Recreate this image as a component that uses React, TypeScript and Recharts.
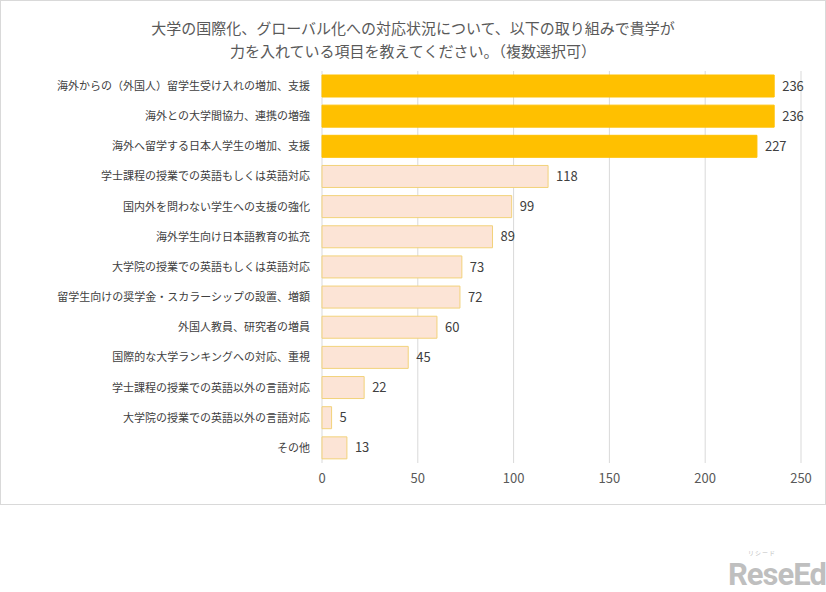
import React from 'react';
import { BarChart, Bar, XAxis, YAxis, CartesianGrid, Cell, LabelList } from 'recharts';

const TITLE_LINE_1 = '大学の国際化、グローバル化への対応状況について、以下の取り組みで貴学が';
const TITLE_LINE_2 = '力を入れている項目を教えてください。（複数選択可）';

const categories = [
  '海外からの（外国人）留学生受け入れの増加、支援',
  '海外との大学間協力、連携の増強',
  '海外へ留学する日本人学生の増加、支援',
  '学士課程の授業での英語もしくは英語対応',
  '国内外を問わない学生への支援の強化',
  '海外学生向け日本語教育の拡充',
  '大学院の授業での英語もしくは英語対応',
  '留学生向けの奨学金・スカラーシップの設置、増額',
  '外国人教員、研究者の増員',
  '国際的な大学ランキングへの対応、重視',
  '学士課程の授業での英語以外の言語対応',
  '大学院の授業での英語以外の言語対応',
  'その他',
];

const counts = [236, 236, 227, 118, 99, 89, 73, 72, 60, 45, 22, 5, 13];

const xTicks = [0, 50, 100, 150, 200, 250];

// top 3 are highlighted
const HIGHLIGHT = 3;

const data = categories.map((name, i) => ({ name, value: counts[i] }));

const FONT = '"Noto Sans CJK JP", "Noto Sans", sans-serif';

const App: React.FC = () => {
  return (
    <div style={{ position: 'absolute', left: 0, top: 0, width: 826, height: 592, background: '#fff', fontFamily: FONT }}>
      <div
        style={{
          position: 'absolute',
          left: 0,
          top: 0,
          width: 824,
          height: 503,
          border: '1px solid #D9D9D9',
        }}
      />
      <div style={{ position: 'absolute', left: 0, top: 16, width: 826, textAlign: 'center', color: '#595959', fontSize: 15, lineHeight: '23px' }}>
        <div>{TITLE_LINE_1}</div>
        <div>{TITLE_LINE_2}</div>
      </div>
      <div style={{ position: 'absolute', left: 0, top: 0 }}>
        <BarChart
          width={826}
          height={505}
          data={data}
          layout="vertical"
          margin={{ top: 71, right: 25, bottom: 12, left: 0 }}
          barSize={22}
        >
          <CartesianGrid horizontal={false} stroke="#D9D9D9" />
          <XAxis
            type="number"
            domain={[0, 250]}
            ticks={xTicks}
            axisLine={false}
            tickLine={false}
            tickSize={0}
            tickMargin={11}
            height={30}
            tick={{ fill: '#595959', fontSize: 13, fontFamily: FONT }}
          />
          <YAxis
            type="category"
            dataKey="name"
            width={322}
            axisLine={false}
            tickLine={false}
            tickSize={0}
            tickMargin={12}
            interval={0}
            tick={{ fill: '#404040', fontSize: 11, fontFamily: FONT }}
          />
          <Bar dataKey="value" isAnimationActive={false}>
            {data.map((entry, index) => (
              <Cell
                key={`cell-${index}`}
                fill={index < HIGHLIGHT ? '#FFC000' : '#FCE4D6'}
                stroke={index < HIGHLIGHT ? '#FFC000' : '#F2D27A'}
                strokeWidth={1}
              />
            ))}
            <LabelList dataKey="value" position="right" offset={8} fill="#404040" fontSize={13} fontFamily={FONT} />
          </Bar>
        </BarChart>
      </div>
      <div style={{ position: 'absolute', left: 748, top: 549, color: '#BFBFBF', fontSize: 6, lineHeight: '8px', letterSpacing: 1 }}>
        リシード
      </div>
      <div style={{ position: 'absolute', left: 728, top: 559, color: '#BFBFBF', fontFamily: 'Roboto, sans-serif', fontWeight: 700, fontSize: 31, lineHeight: '32px', letterSpacing: -1 }}>
        ReseEd
      </div>
    </div>
  );
};

export default App;
